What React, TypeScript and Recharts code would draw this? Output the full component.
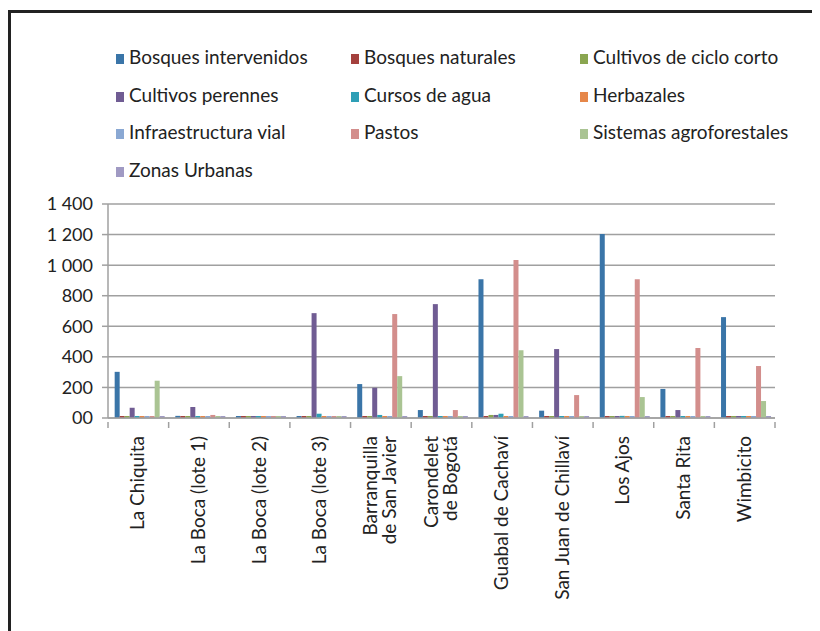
import React from 'react';
import { BarChart, Bar, XAxis, YAxis, CartesianGrid } from 'recharts';

const CATEGORIES = [
  'La Chiquita',
  'La Boca (lote 1)',
  'La Boca (lote 2)',
  'La Boca (lote 3)',
  'Barranquilla\nde San Javier',
  'Carondelet\nde Bogotá',
  'Guabal de Cachaví',
  'San Juan de Chillaví',
  'Los Ajos',
  'Santa Rita',
  'Wimbicito',
];

const SERIES_NAMES = [
  'Bosques intervenidos',
  'Bosques naturales',
  'Cultivos de ciclo corto',
  'Cultivos perennes',
  'Cursos de agua',
  'Herbazales',
  'Infraestructura vial',
  'Pastos',
  'Sistemas agroforestales',
  'Zonas Urbanas',
];

const SERIES_COLORS = [
  '#3a75a8',
  '#a4403d',
  '#8aa650',
  '#705c93',
  '#2e9fb6',
  '#e6874a',
  '#8aa8d3',
  '#d38e8c',
  '#aac493',
  '#a09ac3',
];

const bosquesIntervenidos = [302, 14, 0, 0, 222, 52, 908, 48, 1203, 190, 660];
const bosquesNaturales = [0, 0, 0, 0, 0, 0, 0, 0, 0, 0, 0];
const cultivosCicloCorto = [0, 0, 0, 0, 8, 0, 20, 0, 0, 0, 0];
const cultivosPerennes = [67, 72, 0, 686, 198, 745, 20, 451, 0, 52, 0];
const cursosDeAgua = [0, 0, 0, 28, 20, 8, 28, 0, 14, 0, 0];
const herbazales = [0, 0, 0, 0, 0, 0, 0, 0, 0, 0, 0];
const infraestructuraVial = [0, 0, 0, 0, 0, 0, 0, 0, 0, 0, 0];
const pastos = [0, 20, 0, 8, 680, 52, 1033, 150, 908, 458, 340];
const sistemasAgroforestales = [244, 0, 0, 0, 274, 3, 444, 0, 137, 0, 111];
const zonasUrbanas = [0, 0, 0, 0, 0, 0, 0, 0, 0, 0, 0];

const SERIES_VALUES = [
  bosquesIntervenidos,
  bosquesNaturales,
  cultivosCicloCorto,
  cultivosPerennes,
  cursosDeAgua,
  herbazales,
  infraestructuraVial,
  pastos,
  sistemasAgroforestales,
  zonasUrbanas,
];

const Y_TICKS = [0, 200, 400, 600, 800, 1000, 1200, 1400];

const FONT = 'Lato, "Open Sans", sans-serif';
const TEXT = '#222';
const GRID = '#a0a0a0';

const CHART_W = 809;
const CHART_H = 618;
const MARGIN = { top: 191, right: 45, bottom: 0, left: 0 };
const Y_WIDTH = 97;

const data = CATEGORIES.map((name, i) => {
  const row: Record<string, any> = { name };
  SERIES_NAMES.forEach((s, j) => {
    row[s] = SERIES_VALUES[j][i];
  });
  return row;
});

const formatY = (v: number) => {
  if (v === 0) return '00';
  return String(v).replace(/\B(?=(\d{3})+(?!\d))/g, ' ');
};

const bandWidth = (CHART_W - MARGIN.left - Y_WIDTH - MARGIN.right) / CATEGORIES.length;

const CategoryTick = (props: any) => {
  const { x, y, payload, index } = props;
  const lines = String(payload.value).split('\n');
  const lineH = 19;
  const startY = -((lines.length - 1) * lineH) / 2 + 6;
  const left = x - bandWidth / 2;
  return (
    <g>
      <line x1={left} y1={y - 4} x2={left} y2={y + 2} stroke={GRID} strokeWidth={1.5} />
      {index === CATEGORIES.length - 1 && (
        <line x1={left + bandWidth} y1={y - 4} x2={left + bandWidth} y2={y + 2} stroke={GRID} strokeWidth={1.5} />
      )}
      <g transform={`translate(${x},${y + 10})`}>
        <text transform="rotate(-90)" textAnchor="end" fill={TEXT} fontSize={19} fontFamily={FONT}>
          {lines.map((l, i) => (
            <tspan key={i} x={0} y={startY + i * lineH}>
              {l}
            </tspan>
          ))}
        </text>
      </g>
    </g>
  );
};

const LegendBlock = () => (
  <div style={{ position: 'absolute', left: 0, top: 0, width: CHART_W }}>
    {SERIES_NAMES.map((name, i) => {
      const col = i % 3;
      const row = Math.floor(i / 3);
      const colX = [105, 340, 569][col];
      return (
        <div
          key={name}
          style={{
            position: 'absolute',
            left: colX,
            top: 33 + row * 37.7,
            height: 22,
            display: 'flex',
            alignItems: 'flex-end',
            fontFamily: FONT,
            fontSize: 19,
            lineHeight: '22px',
            color: TEXT,
            whiteSpace: 'nowrap',
          }}
        >
          <span
            style={{
              display: 'inline-block',
              width: 8,
              height: 10,
              background: SERIES_COLORS[i],
              marginRight: 5,
              marginBottom: 4,
            }}
          />
          <span>{name}</span>
        </div>
      );
    })}
  </div>
);

export default function App() {
  return (
    <div
      style={{
        position: 'relative',
        marginTop: 2,
        width: CHART_W,
        height: CHART_H,
        borderTop: '3px solid #222',
        borderLeft: '3px solid #222',
        background: '#fff',
      }}
    >
      <LegendBlock />
      <div style={{ position: 'absolute', left: 0, top: 0 }}>
        <BarChart
          width={CHART_W}
          height={CHART_H}
          data={data}
          margin={MARGIN}
          barCategoryGap="11%"
          barGap={0}
        >
          <CartesianGrid vertical={false} stroke={GRID} strokeWidth={1.5} />
          <XAxis
            dataKey="name"
            interval={0}
            height={213}
            tick={<CategoryTick />}
            tickLine={false}
            axisLine={{ stroke: GRID, strokeWidth: 1.5 }}
          />
          <YAxis
            width={Y_WIDTH}
            domain={[0, 1400]}
            ticks={Y_TICKS}
            tickFormatter={formatY}
            tickSize={6}
            tickMargin={9}
            tick={{ fill: TEXT, fontSize: 18, fontFamily: FONT }}
            tickLine={{ stroke: GRID, strokeWidth: 1.5 }}
            axisLine={{ stroke: GRID, strokeWidth: 1.5 }}
          />
          {SERIES_NAMES.map((s, j) => (
            <Bar
              key={s}
              dataKey={s}
              fill={SERIES_COLORS[j]}
              minPointSize={2}
              isAnimationActive={false}
            />
          ))}
        </BarChart>
      </div>
    </div>
  );
}
